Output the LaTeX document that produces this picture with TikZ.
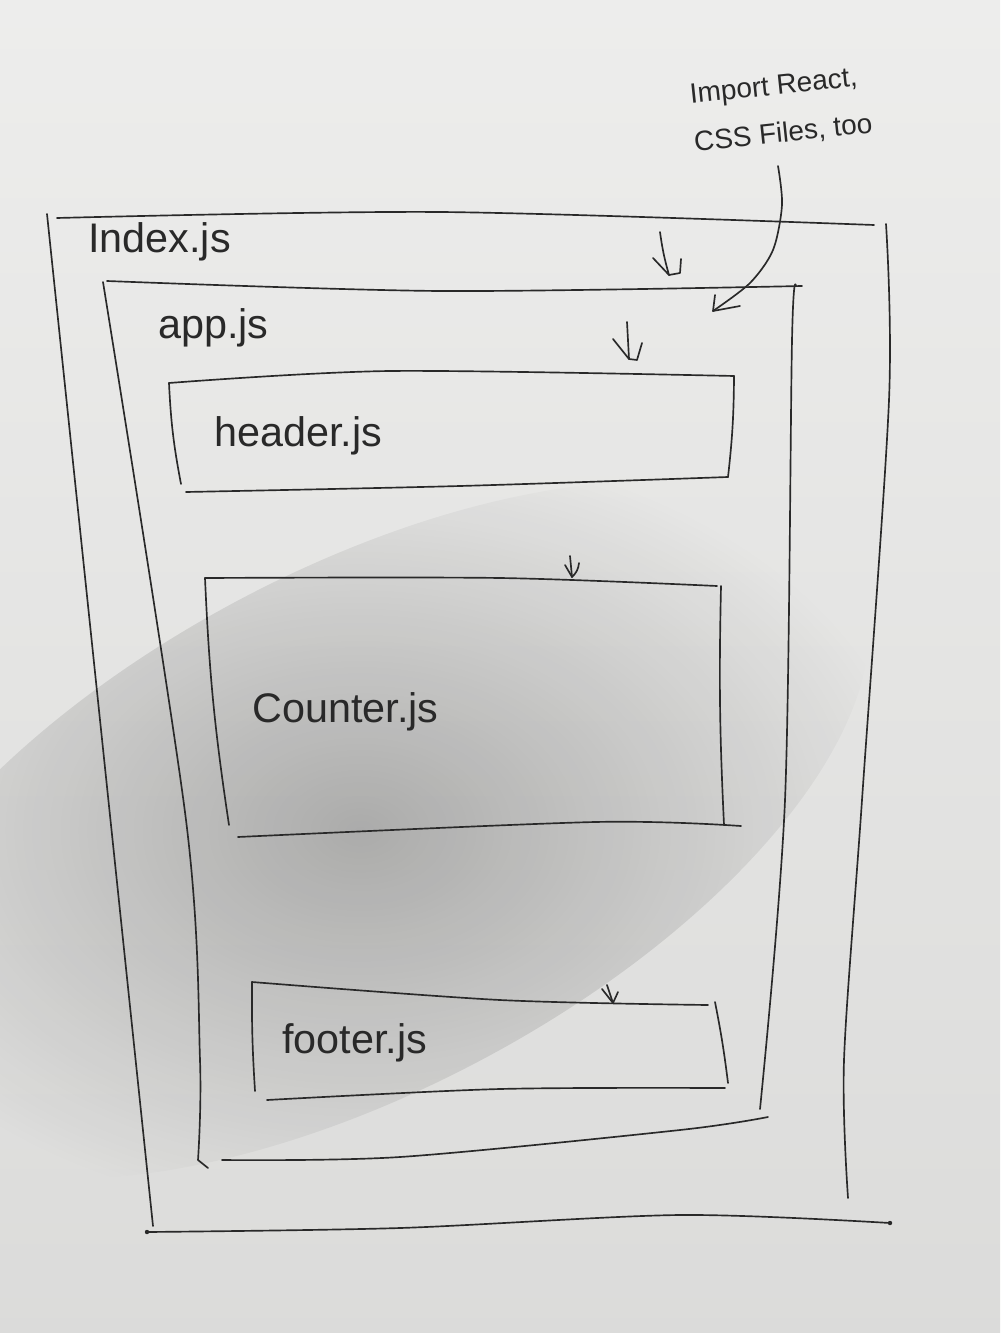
\documentclass[tikz,border=0pt]{standalone}
\usepackage{fontspec}
\setmainfont{Liberation Sans}
\usetikzlibrary{fadings}
\definecolor{paperlight}{rgb}{0.93,0.93,0.925}
\definecolor{paperdark}{rgb}{0.86,0.86,0.855}
\definecolor{ink}{rgb}{0.16,0.16,0.16}
\tikzfading[name=softspot, inner color=transparent!0, outer color=transparent!100]
\begin{document}
\begin{tikzpicture}[x=0.75pt,y=-0.75pt,
  pen/.style={draw=ink, line width=1.25pt, line cap=round, line join=round},
  label/.style={anchor=west, inner sep=0pt, text=ink, font=\fontsize{31}{34}\selectfont},
  note/.style={anchor=west, inner sep=0pt, text=ink, font=\fontsize{21}{24}\selectfont, rotate=6}]
\useasboundingbox (0,0) rectangle (1000,1333);

% sheet of paper with a soft shadow across its middle
\shade[top color=paperlight, bottom color=paperdark] (0,0) rectangle (1000,1333);
\fill[black, opacity=0.24, path fading=softspot, rotate around={28:(360,830)}]
  (360,830) ellipse [x radius=560, y radius=260];

% ---------- index.js (outer frame) ----------
\coordinate (i1) at (57,218);  \coordinate (i2) at (440,212); \coordinate (i3) at (874,225);
\coordinate (i4) at (47,214);  \coordinate (i5) at (153,1226);
\coordinate (i6) at (886,224); \coordinate (i6a) at (889,400); \coordinate (i6b) at (862,800);
\coordinate (i6c) at (844,1060); \coordinate (i7) at (848,1198);
\coordinate (i8) at (147,1232); \coordinate (i9) at (400,1228); \coordinate (i10) at (680,1215);
\coordinate (i11) at (890,1223);
\draw[pen] plot[smooth] coordinates {(i1) (i2) (i3)};
\draw[pen] (i4) -- (i5);
\draw[pen] plot[smooth] coordinates {(i6) (i6a) (i6b) (i6c) (i7)};
\draw[pen] plot[smooth] coordinates {(i8) (i9) (i10) (i11)};
\fill[ink] (i8) circle (2.2); \fill[ink] (i11) circle (2.2);

% ---------- app.js ----------
\coordinate (a1) at (107,281); \coordinate (a2) at (440,291); \coordinate (a3) at (802,286);
\coordinate (a4) at (103,282); \coordinate (a4a) at (186,820); \coordinate (a4b) at (200,1060);
\coordinate (a5) at (198,1160); \coordinate (a5h) at (208,1168);
\coordinate (a6) at (796,286); \coordinate (a6a) at (792,340); \coordinate (a6b) at (785,800);
\coordinate (a7) at (760,1109);
\coordinate (a8) at (222,1160); \coordinate (a9) at (400,1157); \coordinate (a10) at (680,1130);
\coordinate (a11) at (768,1117);
\draw[pen] plot[smooth] coordinates {(a1) (a2) (a3)};
\draw[pen] plot[smooth] coordinates {(a4) (a4a) (a4b) (a5)} -- (a5h);
\draw[pen] plot[smooth] coordinates {(a6) (a6a) (a6b) (a7)};
\draw[pen] plot[smooth] coordinates {(a8) (a9) (a10) (a11)};

% ---------- header.js ----------
\coordinate (h1) at (169,383); \coordinate (h2) at (390,371); \coordinate (h3) at (734,376);
\coordinate (h4) at (181,484);
\coordinate (h5) at (728,477);
\coordinate (h6) at (186,492); \coordinate (h7) at (460,486);
\draw[pen] plot[smooth] coordinates {(h1) (h2) (h3)};
\draw[pen] (h1) to[bend right=4] (h4);
\draw[pen] (h3) to[bend left=3] (h5);
\draw[pen] plot[smooth] coordinates {(h6) (h7) (h5)};

% ---------- counter.js ----------
\coordinate (c1) at (205,578); \coordinate (c2) at (500,578); \coordinate (c3) at (717,586);
\coordinate (c4) at (229,825);
\coordinate (c5) at (721,586); \coordinate (c6) at (724,825);
\coordinate (c7) at (238,837); \coordinate (c8) at (595,822); \coordinate (c9) at (741,826);
\draw[pen] plot[smooth] coordinates {(c1) (c2) (c3)};
\draw[pen] (c1) to[bend right=3] (c4);
\draw[pen] (c5) to[bend right=2] (c6);
\draw[pen] plot[smooth] coordinates {(c7) (c8) (c9)};

% ---------- footer.js ----------
\coordinate (f1) at (252,982); \coordinate (f2) at (500,1000); \coordinate (f3) at (708,1005);
\coordinate (f4) at (255,1091);
\coordinate (f5) at (715,1002); \coordinate (f6) at (728,1083);
\coordinate (f7) at (267,1100); \coordinate (f8) at (500,1089); \coordinate (f9) at (725,1088);
\draw[pen] plot[smooth] coordinates {(f1) (f2) (f3)};
\draw[pen] (f1) to[bend right=2] (f4);
\draw[pen] (f5) to[bend left=2] (f6);
\draw[pen] plot[smooth] coordinates {(f7) (f8) (f9)};

% ---------- file names ----------
\node[label] (index)   at (88,242)   {Index.js};
\node[label] (app)     at (158,328)  {app.js};
\node[label] (header)  at (214,436)  {header.js};
\node[label] (counter) at (252,712)  {Counter.js};
\node[label] (footer)  at (282,1043) {footer.js};

% ---------- import arrows ----------
% into app.js
\coordinate (ia0) at (660,232); \coordinate (ia1) at (669,275);
\coordinate (ial) at (653,258); \coordinate (iak) at (680,273); \coordinate (iar) at (681,259);
\draw[pen] (ia0) to[bend right=4] (ia1);
\draw[pen] (ial) -- (ia1) -- (iak) -- (iar);
% into header.js
\coordinate (ha0) at (627,322); \coordinate (ha1) at (629,359);
\coordinate (hal) at (613,339); \coordinate (hak) at (637,360); \coordinate (har) at (642,343);
\draw[pen] (ha0) -- (ha1);
\draw[pen] (hal) -- (ha1) -- (hak) -- (har);
% into counter.js
\coordinate (ca0) at (570,556); \coordinate (ca1) at (572,577);
\coordinate (cal) at (565,565); \coordinate (car) at (579,563);
\draw[pen] (ca0) -- (ca1);
\draw[pen] (cal) -- (ca1) to[bend right=20] (car);
% into footer.js
\coordinate (fa0) at (607,985); \coordinate (fa1) at (613,1003);
\coordinate (fal) at (602,989); \coordinate (far) at (618,992);
\draw[pen] (fa0) -- (fa1);
\draw[pen] (fal) -- (fa1) -- (far);

% ---------- side note ----------
\node[note] (note1) at (690,97)  {Import React,};
\node[note] (note2) at (694,143) {CSS Files, too};
\coordinate (n0) at (778,166); \coordinate (n1) at (782,205); \coordinate (n2) at (773,250);
\coordinate (n3) at (750,283); \coordinate (n4) at (713,311);
\coordinate (nl) at (715,295); \coordinate (nr) at (740,306);
\draw[pen] plot[smooth] coordinates {(n0) (n1) (n2) (n3) (n4)};
\draw[pen] (nl) -- (n4) -- (nr);
\end{tikzpicture}
\end{document}
